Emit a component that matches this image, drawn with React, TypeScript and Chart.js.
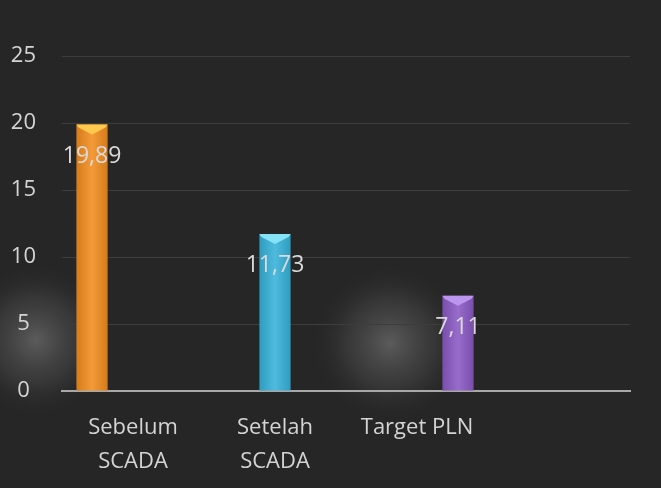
import React, { useEffect, useRef } from 'react';
import { Chart, registerables } from 'chart.js';

Chart.register(...registerables);

const categories: (string | string[])[] = [['Sebelum', 'SCADA'], ['Setelah', 'SCADA'], 'Target PLN', ''];
const seriesNames = ['Sebelum SCADA', 'Setelah SCADA', 'Target PLN'];
const sebelumValues = [19.89, null, null, null];
const setelahValues = [null, 11.73, null, null];
const targetValues = [null, null, 7.11, null];
const yTickValues = [0, 5, 10, 15, 20, 25];

const FONT = '"Open Sans", "DejaVu Sans", sans-serif';
const TEXT = '#d4d4d4';

const barColors = ['#f28c1e', '#35b1da', '#8a58c4'];
const capColors = ['#ffc94f', '#86e2f7', '#bb95ee'];

const bgPlugin = {
  id: 'bgPlugin',
  beforeDraw(chart: any) {
    const { ctx, width, height } = chart;
    ctx.save();
    ctx.fillStyle = '#262626';
    ctx.fillRect(0, 0, width, height);
    const glows = [
      { x: 36, y: 340, r: 78 },
      { x: 390, y: 343, r: 80 },
    ];
    for (const g of glows) {
      const grd = ctx.createRadialGradient(g.x, g.y, 0, g.x, g.y, g.r);
      grd.addColorStop(0, 'rgba(105,105,105,0.8)');
      grd.addColorStop(0.55, 'rgba(80,80,80,0.4)');
      grd.addColorStop(1, 'rgba(38,38,38,0)');
      ctx.fillStyle = grd;
      ctx.fillRect(g.x - g.r, g.y - g.r, g.r * 2, g.r * 2);
    }
    ctx.restore();
  },
};

const barDecor = {
  id: 'barDecor',
  afterDatasetsDraw(chart: any) {
    const { ctx } = chart;
    ctx.save();
    chart.data.datasets.forEach((ds: any, di: number) => {
      const meta = chart.getDatasetMeta(di);
      meta.data.forEach((el: any, i: number) => {
        const v = ds.data[i];
        if (v === null || v === undefined) return;
        const { x, y, base, width } = el.getProps(['x', 'y', 'base', 'width'], true);
        const left = x - width / 2;
        const right = x + width / 2;
        const grd = ctx.createLinearGradient(left, 0, right, 0);
        grd.addColorStop(0, 'rgba(0,0,0,0.12)');
        grd.addColorStop(0.5, 'rgba(255,255,255,0.12)');
        grd.addColorStop(1, 'rgba(0,0,0,0.12)');
        ctx.fillStyle = grd;
        ctx.fillRect(left, y, width, base - y);
        ctx.fillStyle = capColors[di];
        ctx.beginPath();
        ctx.moveTo(left, y);
        ctx.lineTo(right, y);
        ctx.lineTo(right - 2, y + 3);
        ctx.lineTo(x, y + 10);
        ctx.lineTo(left + 2, y + 3);
        ctx.closePath();
        ctx.fill();
      });
    });
    ctx.fillStyle = '#dadada';
    ctx.font = `23px ${FONT}`;
    ctx.textAlign = 'center';
    ctx.textBaseline = 'middle';
    chart.data.datasets.forEach((ds: any, di: number) => {
      const meta = chart.getDatasetMeta(di);
      meta.data.forEach((el: any, i: number) => {
        const v = ds.data[i];
        if (v === null || v === undefined) return;
        const { x, y } = el.getProps(['x', 'y'], true);
        ctx.fillText(v.toFixed(2).replace('.', ','), x, y + 32);
      });
    });
    ctx.restore();
  },
};

export default function App() {
  const ref = useRef<HTMLCanvasElement>(null);
  useEffect(() => {
    if (!ref.current) return;
    const seriesData = [sebelumValues, setelahValues, targetValues];
    const chart = new Chart(ref.current, {
      type: 'bar',
      data: {
        labels: categories,
        datasets: seriesData.map((d, i) => ({
          label: seriesNames[i],
          data: d,
          backgroundColor: barColors[i],
          borderWidth: 0,
          barPercentage: 0.76,
          categoryPercentage: 0.866,
        })),
      },
      options: {
        animation: false,
        responsive: false,
        maintainAspectRatio: false,
        layout: { padding: { top: 16, right: 31, bottom: 0, left: 0 } },
        plugins: { legend: { display: false }, tooltip: { enabled: false } },
        scales: {
          x: {
            grid: { display: false, drawTicks: false },
            border: { display: true, color: '#a8a8a8', width: 2 },
            afterFit: (s: any) => {
              s.height = 97;
              s.paddingLeft = 0;
              s.paddingRight = 0;
            },
            ticks: {
              color: TEXT,
              font: { family: FONT, size: 22, lineHeight: 1.55 },
              padding: 20,
              maxRotation: 0,
              autoSkip: false,
            },
          },
          y: {
            min: 0,
            max: 28,
            afterBuildTicks: (s: any) => {
              s.ticks = yTickValues.map((v) => ({ value: v }));
            },
            afterFit: (s: any) => {
              s.width = 62;
              s.paddingTop = 0;
              s.paddingBottom = 0;
            },
            grid: { color: '#3d3d3d', lineWidth: 1, drawTicks: false },
            border: { display: false },
            ticks: {
              color: TEXT,
              font: { family: FONT, size: 22 },
              padding: 26,
              crossAlign: 'center',
            },
          },
        },
      } as any,
      plugins: [bgPlugin, barDecor],
    });
    return () => chart.destroy();
  }, []);
  return (
    <div style={{ position: 'fixed', left: 0, top: 0, width: 661, height: 488, background: '#262626' }}>
      <canvas ref={ref} width={661} height={488} style={{ display: 'block', width: 661, height: 488 }} />
    </div>
  );
}
